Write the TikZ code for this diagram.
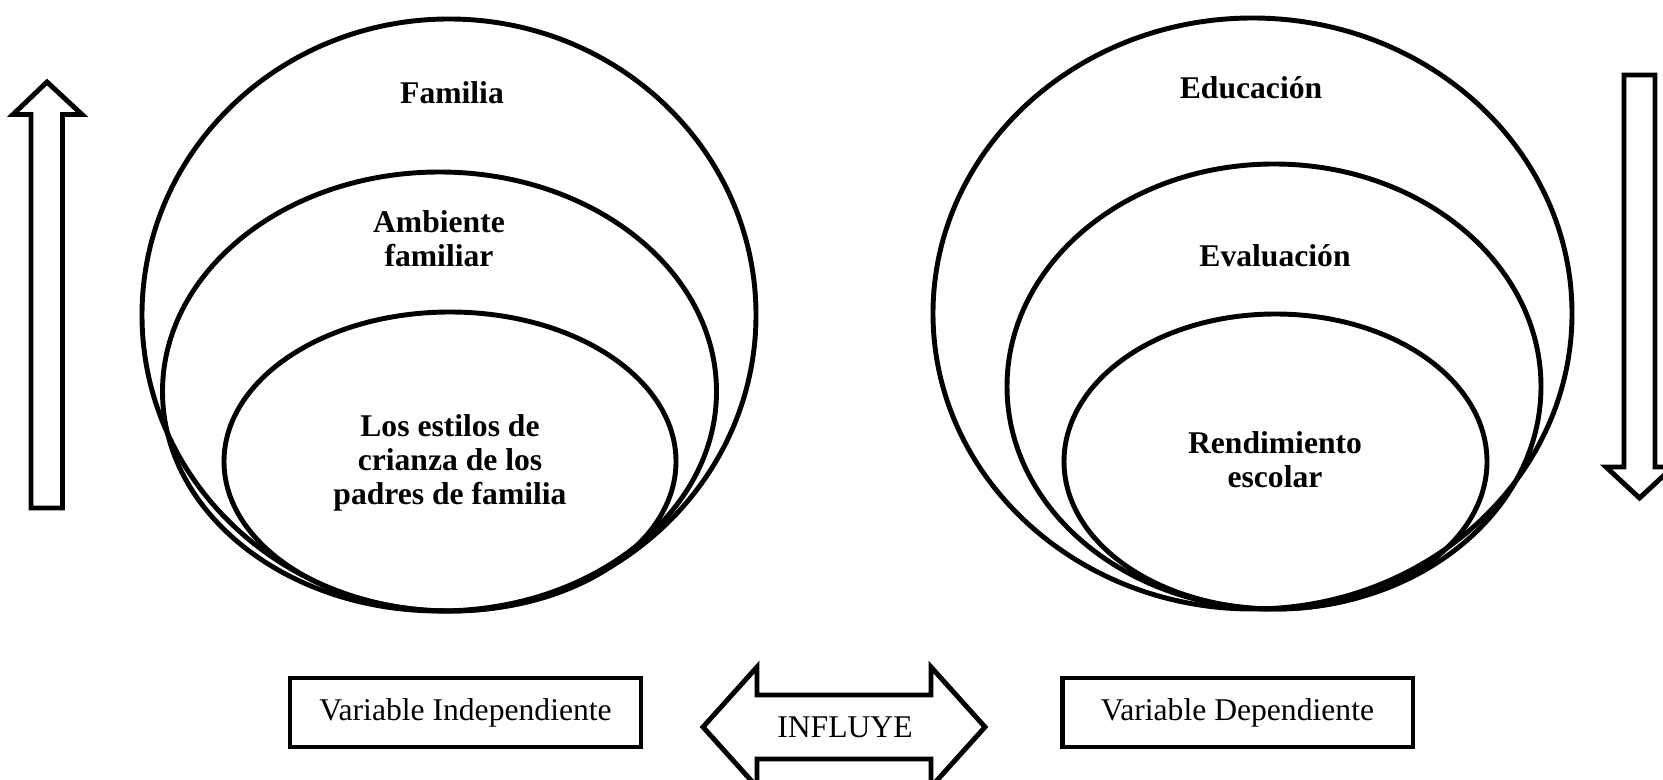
\documentclass[tikz,border=0pt]{standalone}
\usepackage{fontspec}
\setmainfont{Liberation Serif}

\begin{document}
\begin{tikzpicture}[x=0.02cm,y=-0.02cm]
\tikzstyle{ring}=[line width=2.8pt]
\tikzstyle{title}=[font=\fontsize{18}{19.5}\selectfont\bfseries,align=center,inner sep=0pt]
\tikzstyle{varbox}=[draw,line width=2.8pt,minimum width=7.02cm,minimum height=1.38cm,inner sep=0pt,font=\fontsize{18}{18}\selectfont]
\tikzstyle{blockarrow}=[line width=2.8pt,line join=miter]
    \useasboundingbox (0,0) rectangle (1663,780);
    % left side
    \draw[ring] (449,315) ellipse [x radius=307, y radius=296];
    \draw[ring] (439.5,391.5) ellipse [x radius=277, y radius=219.5];
    \draw[ring] (450,461.5) ellipse [x radius=226, y radius=149.5];
    \node[title] (familia) at (452,93) {Familia};
    \node[title] (ambiente) at (439,239) {Ambiente\\familiar};
    \node[title] (estilos) at (450,463) {Los estilos de\\crianza de los\\padres de familia};
    % right side
    \draw[ring] (1252.5,313.5) ellipse [x radius=319.5, y radius=295.5];
    \draw[ring] (1274,386.5) ellipse [x radius=267, y radius=222.5];
    \draw[ring] (1275.5,461.5) ellipse [x radius=211.5, y radius=147.5];
    \node[title] (educacion) at (1251,88) {Educación};
    \node[title] (evaluacion) at (1275,256) {Evaluación};
    \node[title] (rendimiento) at (1275,460) {Rendimiento\\escolar};
    % arrows
    \draw[blockarrow] (47,82) -- (82,114.5) -- (62.5,114.5) -- (62.5,508)
        -- (31,508) -- (31,114.5) -- (13,114.5) -- cycle;
    \draw[blockarrow] (1624,75) -- (1655,75) -- (1655,467) -- (1673,467)
        -- (1639.5,498) -- (1606,467) -- (1624,467) -- cycle;
    \draw[blockarrow] (703,727) -- (757,667) -- (757,695) -- (931,695) -- (931,667)
        -- (985,727) -- (931,787) -- (931,759) -- (757,759) -- (757,787) -- cycle;
    \node[font=\fontsize{18}{18}\selectfont] (influye) at (845,727) {INFLUYE};
    % boxes
    \node[varbox] (vi) at (465.5,712.5) {Variable Independiente};
    \node[varbox] (vd) at (1237.5,712.5) {Variable Dependiente};
\end{tikzpicture}
\end{document}
